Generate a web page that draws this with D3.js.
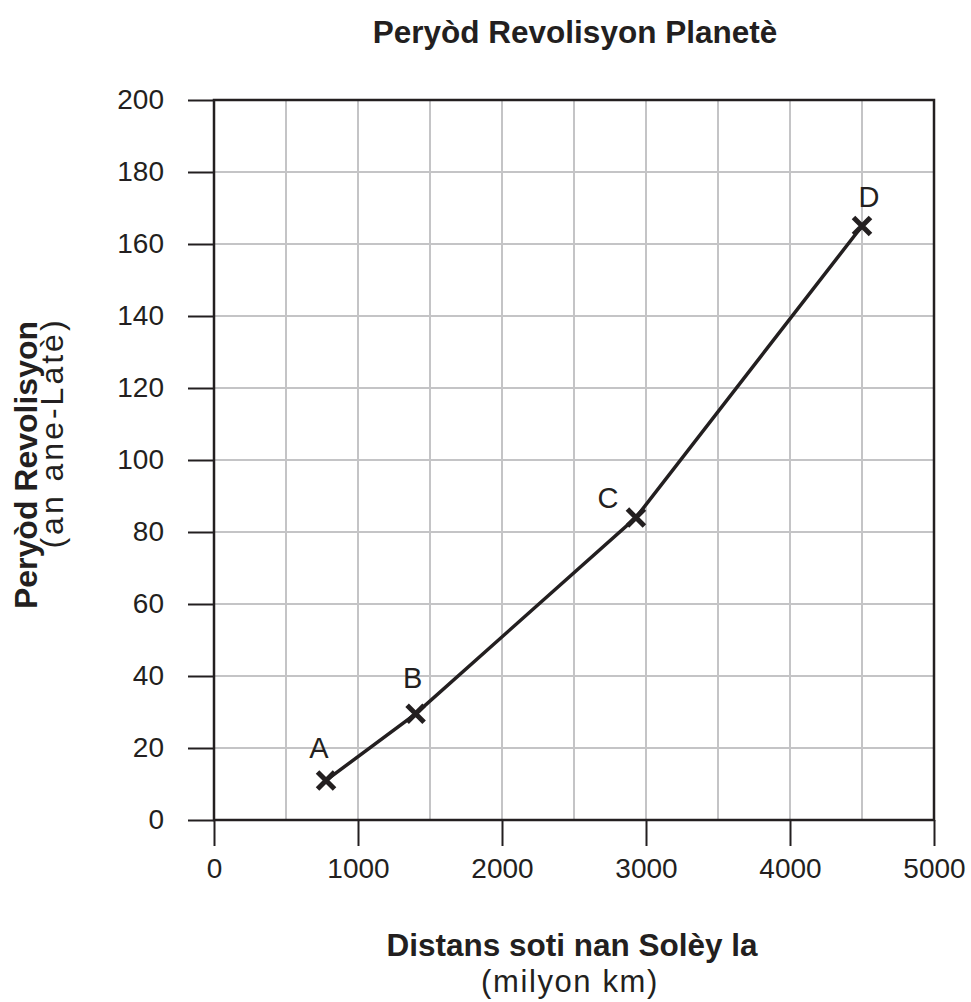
<!DOCTYPE html>
<html>
<head>
<meta charset="utf-8">
<script src="https://cdn.jsdelivr.net/npm/d3@7"></script>
<style>
	body { margin: 0; background: #fff; }
	svg { display: block; font-family: "Liberation Sans", Arial, Helvetica, sans-serif; }
	.grid line { stroke: #c4c4c6; stroke-width: 2; }
	.axis path { display: none; }
	.axis line { stroke: #231f20; stroke-width: 2; }
	.axis text { fill: #231f20; font-size: 28px; }
</style>
</head>
<body>
<div id="chart"></div>
<script>
// ----------------------------------------
// DATA

var planets = ["A", "B", "C", "D"];
var distance = [778, 1400, 2930, 4500];   // milyon km
var period = [11, 29.5, 84, 165];          // an ane-Latè

var xTicks = [0, 1000, 2000, 3000, 4000, 5000];
var yTicks = [0, 20, 40, 60, 80, 100, 120, 140, 160, 180, 200];
var xGrid = [500, 1000, 1500, 2000, 2500, 3000, 3500, 4000, 4500];
var yGrid = [20, 40, 60, 80, 100, 120, 140, 160, 180];

// label nudges around each point, px
var labelNudge = { A: [-7, -22], B: [-3, -26], C: [-28, -10], D: [7, -19] };

// ----------------------------------------
// CHART

var width = 971;
var height = 1002;
var margin = { top: 100, right: 37, bottom: 182, left: 214 };

var svg = d3.select("#chart").append("svg")
	.attr("width", width)
	.attr("height", height);

var xScale = d3.scaleLinear().domain([0, 5000]).range([margin.left, width - margin.right]);
var yScale = d3.scaleLinear().domain([0, 200]).range([height - margin.bottom, margin.top]);

// grid
var grid = svg.append("g").attr("class", "grid");
grid.selectAll(".gx").data(xGrid).enter().append("line")
	.attr("x1", function (d) { return xScale(d); })
	.attr("x2", function (d) { return xScale(d); })
	.attr("y1", yScale(0))
	.attr("y2", yScale(200));
grid.selectAll(".gy").data(yGrid).enter().append("line")
	.attr("x1", xScale(0))
	.attr("x2", xScale(5000))
	.attr("y1", function (d) { return yScale(d); })
	.attr("y2", function (d) { return yScale(d); });

// frame
svg.append("rect")
	.attr("x", xScale(0))
	.attr("y", yScale(200))
	.attr("width", xScale(5000) - xScale(0))
	.attr("height", yScale(0) - yScale(200))
	.attr("fill", "none")
	.attr("stroke", "#231f20")
	.attr("stroke-width", 2.5);

// axes
svg.append("g")
	.attr("class", "axis")
	.attr("transform", "translate(0," + yScale(0) + ")")
	.call(d3.axisBottom(xScale).tickValues(xTicks).tickSize(26).tickPadding(12).tickFormat(d3.format("d")));

svg.append("g")
	.attr("class", "axis")
	.attr("transform", "translate(" + xScale(0) + ",0)")
	.call(d3.axisLeft(yScale).tickValues(yTicks).tickSize(26).tickPadding(24).tickFormat(d3.format("d")));

// line + markers
var pts = planets.map(function (p, i) { return { name: p, x: distance[i], y: period[i] }; });

var pathGenerator = d3.line()
	.x(function (d) { return xScale(d.x); })
	.y(function (d) { return yScale(d.y); });

svg.append("path")
	.attr("d", pathGenerator(pts))
	.attr("fill", "none")
	.attr("stroke", "#231f20")
	.attr("stroke-width", 3.5);

svg.selectAll(".mark").data(pts).enter().append("path")
	.attr("transform", function (d) { return "translate(" + xScale(d.x) + "," + yScale(d.y) + ")"; })
	.attr("d", "M-8.5,-8.5L8.5,8.5M-8.5,8.5L8.5,-8.5")
	.attr("stroke", "#231f20")
	.attr("stroke-width", 5);

svg.selectAll(".lbl").data(pts).enter().append("text")
	.attr("x", function (d) { return xScale(d.x) + labelNudge[d.name][0]; })
	.attr("y", function (d) { return yScale(d.y) + labelNudge[d.name][1]; })
	.attr("text-anchor", "middle")
	.attr("font-size", 29)
	.attr("fill", "#231f20")
	.text(function (d) { return d.name; });

// titles
svg.append("text")
	.attr("x", 575).attr("y", 43)
	.attr("text-anchor", "middle")
	.attr("font-size", 31.5).attr("font-weight", "bold").attr("fill", "#231f20")
	.text("Peryòd Revolisyon Planetè");

svg.append("text")
	.attr("x", 572).attr("y", 956)
	.attr("text-anchor", "middle")
	.attr("font-size", 31.5).attr("font-weight", "bold").attr("fill", "#231f20")
	.text("Distans soti nan Solèy la");

svg.append("text")
	.attr("x", 570).attr("y", 992)
	.attr("text-anchor", "middle")
	.attr("font-size", 31).attr("letter-spacing", 1.6).attr("fill", "#231f20")
	.text("(milyon km)");

svg.append("text")
	.attr("transform", "translate(37,465) rotate(-90)")
	.attr("text-anchor", "middle")
	.attr("font-size", 32).attr("font-weight", "bold").attr("fill", "#231f20")
	.text("Peryòd Revolisyon");

svg.append("text")
	.attr("transform", "translate(63,433) rotate(-90)")
	.attr("text-anchor", "middle")
	.attr("font-size", 32).attr("letter-spacing", 3).attr("fill", "#231f20")
	.text("(an ane-Latè)");
</script>
</body>
</html>
